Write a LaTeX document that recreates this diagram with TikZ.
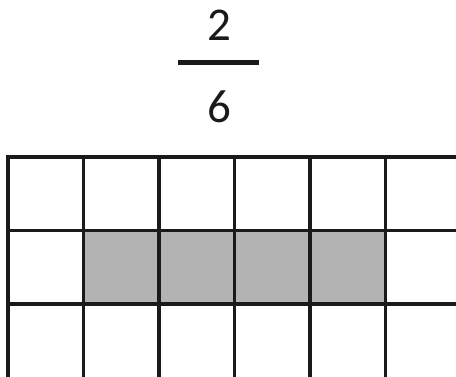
\documentclass[tikz,border=0pt]{standalone}
\usepackage{fontspec}
\setmainfont{Carlito}
\definecolor{cellgray}{HTML}{B3B3B3}
\definecolor{ink}{HTML}{1A1A1A}
\begin{document}
\begin{tikzpicture}[x=1pt,y=-1pt,
  digit/.style={inner sep=0pt,font=\fontsize{47}{47}\selectfont,text=ink},
  gridline/.style={draw=ink,line width=3.6pt}]
\useasboundingbox (0,0) rectangle (456,377);
\clip (0,0) rectangle (456,377);
\node[digit] (num) at (219,25) {2};
\node[digit] (den) at (219,107) {6};
\draw[ink,line width=5pt] (178,63) -- (259,63);
% shaded cells
\fill[cellgray] (83.5,230.7) rectangle (385.5,304.3);
% grid lines
\foreach \x in {8,83.5,159,234.5,310,385.5,461}
  \draw[gridline] (\x,157) -- (\x,382);
\foreach \y in {157,230.7,304.3,379.6}
  \draw[gridline] (6,\y) -- (463,\y);
\end{tikzpicture}
\end{document}
